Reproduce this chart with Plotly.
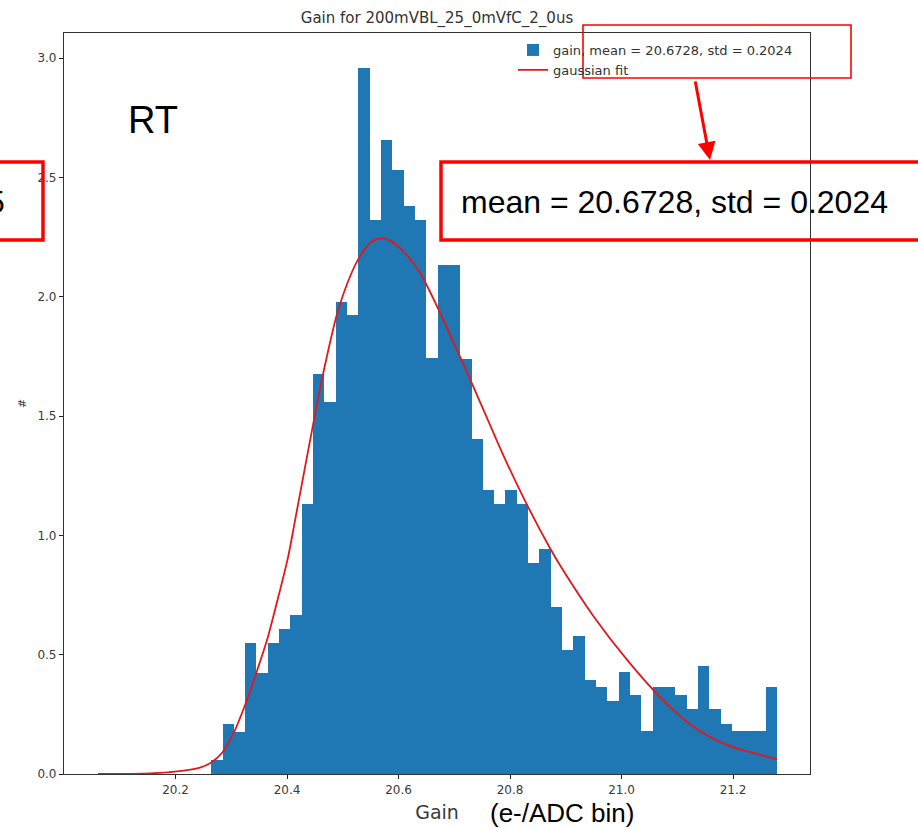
import plotly.graph_objects as go

# ---- data ----
bin_start = 20.264
bin_width = 0.0203
density = [0.059, 0.21, 0.178, 0.547, 0.425, 0.547, 0.607, 0.667, 1.13, 1.676,
           1.557, 1.979, 1.923, 2.957, 2.32, 2.655, 2.531, 2.381, 2.32, 1.742,
           2.133, 2.133, 1.739, 1.404, 1.19, 1.13, 1.19, 1.13, 0.884, 0.943,
           0.70, 0.52, 0.577, 0.394, 0.363, 0.307, 0.429, 0.332, 0.179, 0.363,
           0.363, 0.332, 0.274, 0.453, 0.274, 0.21, 0.179, 0.179, 0.179, 0.363]

fit_x = [20.061, 20.155, 20.199, 20.244, 20.264, 20.284, 20.304, 20.325, 20.343, 20.364,
         20.382, 20.402, 20.415, 20.448, 20.465, 20.490, 20.514, 20.531, 20.549, 20.568,
         20.585, 20.604, 20.627, 20.640, 20.669, 20.711, 20.732, 20.759, 20.788, 20.830,
         20.872, 20.893, 20.950, 21.010, 21.070, 21.129, 21.189, 21.249, 21.279]
fit_y = [0.0, 0.003, 0.01, 0.027, 0.048, 0.09, 0.17, 0.29, 0.41, 0.56,
         0.72, 0.91, 1.07, 1.48, 1.68, 1.93, 2.09, 2.17, 2.225, 2.245,
         2.235, 2.20, 2.14, 2.095, 1.96, 1.745, 1.635, 1.49, 1.335, 1.13,
         0.945, 0.862, 0.66, 0.478, 0.32, 0.198, 0.122, 0.080, 0.062]

x_ticks = [20.2, 20.4, 20.6, 20.8, 21.0, 21.2]
y_ticks = [0.0, 0.5, 1.0, 1.5, 2.0, 2.5, 3.0]

title_text = "Gain for 200mVBL_25_0mVfC_2_0us"
hist_label = "gain, mean = 20.6728, std = 0.2024"
fit_label = "gaussian fit"
callout_text = "mean = 20.6728, std = 0.2024"

# ---- figure ----
W, H = 918, 828
ML, MR, MT, MB = 64, 108, 33, 54
PW, PH = W - ML - MR, H - MT - MB


def px_x(p):
    return (p - ML) / PW


def px_y(p):
    return (H - MB - p) / PH


edges = [bin_start + i * bin_width for i in range(len(density))]

fig = go.Figure()
fig.add_trace(go.Bar(x=edges, y=density, width=bin_width, offset=0,
                     marker=dict(color="#1f77b4", line=dict(width=0)),
                     name=hist_label))
fig.add_trace(go.Scatter(x=fit_x, y=fit_y, mode="lines",
                         line=dict(color="#e0191c", width=1.8, shape="spline",
                                   smoothing=0.8),
                         name=fit_label))

tickfont = dict(family="DejaVu Sans", size=12, color="#3a3a3a")
fig.update_layout(
    width=W, height=H,
    margin=dict(l=ML, r=MR, t=MT, b=MB, autoexpand=False),
    paper_bgcolor="white", plot_bgcolor="white",
    bargap=0,
    title=dict(text=title_text, x=0.5, xanchor="center", xref="paper",
               y=1 - 18 / H, yanchor="middle",
               font=dict(family="DejaVu Sans", size=15, color="#333333")),
    showlegend=True,
    legend=dict(x=px_x(513), y=px_y(35), xanchor="left", yanchor="top",
                bgcolor="rgba(255,255,255,0)", borderwidth=0,
                font=dict(family="DejaVu Sans", size=13, color="#333333"),
                itemwidth=30, tracegroupgap=0),
    xaxis=dict(range=[20.0, 21.338], tickvals=x_ticks,
               ticktext=[f"{v:.1f}" for v in x_ticks],
               showgrid=False, zeroline=False,
               showline=True, linecolor="#333333", linewidth=1.2, mirror=True,
               ticks="outside", ticklen=4, tickwidth=1.2, tickcolor="#222222",
               tickfont=tickfont,
               title=dict(text="Gain", standoff=10,
                          font=dict(family="DejaVu Sans", size=19, color="#3a3a3a")),
               automargin=False),
    yaxis=dict(range=[0, 3.105], tickvals=y_ticks,
               ticktext=[f"{v:.1f}" for v in y_ticks],
               showgrid=False, zeroline=False,
               showline=True, linecolor="#333333", linewidth=1.2, mirror=True,
               ticks="outside", ticklen=4, tickwidth=1.2, tickcolor="#222222",
               tickfont=tickfont,
               title=dict(text="#", standoff=8,
                          font=dict(family="DejaVu Sans", size=11, color="#333333")),
               automargin=False),
)

red = "#ff0000"
# thin box around legend
fig.add_shape(type="rect", xref="paper", yref="paper",
              x0=px_x(583), x1=px_x(851), y0=px_y(78), y1=px_y(25),
              line=dict(color=red, width=1.6), fillcolor="rgba(0,0,0,0)", layer="above")
# callout box (right)
fig.add_shape(type="rect", xref="paper", yref="paper",
              x0=px_x(441), x1=px_x(935), y0=px_y(240), y1=px_y(162),
              line=dict(color=red, width=3.5), fillcolor="rgba(0,0,0,0)", layer="above")
# partial callout box (left)
fig.add_shape(type="rect", xref="paper", yref="paper",
              x0=px_x(-40), x1=px_x(43), y0=px_y(240), y1=px_y(162),
              line=dict(color=red, width=3.5), fillcolor="rgba(0,0,0,0)", layer="above")

# arrow
fig.add_annotation(x=px_x(710), y=px_y(160), xref="paper", yref="paper",
                   ax=-15, ay=-80, axref="pixel", ayref="pixel",
                   text="", showarrow=True, arrowhead=2, arrowsize=1.2,
                   arrowwidth=3, arrowcolor=red)

fig.add_annotation(x=px_x(459), y=px_y(202), xref="paper", yref="paper",
                   xanchor="left", yanchor="middle", showarrow=False,
                   text=callout_text,
                   font=dict(family="Liberation Sans", size=32, color="black"))
fig.add_annotation(x=px_x(7), y=px_y(202), xref="paper", yref="paper",
                   xanchor="right", yanchor="middle", showarrow=False,
                   text="5",
                   font=dict(family="Liberation Sans", size=32, color="black"))
fig.add_annotation(x=px_x(126), y=px_y(120), xref="paper", yref="paper",
                   xanchor="left", yanchor="middle", showarrow=False,
                   text="RT",
                   font=dict(family="Liberation Sans", size=38, color="black"))
fig.add_annotation(x=px_x(488), y=px_y(813), xref="paper", yref="paper",
                   xanchor="left", yanchor="middle", showarrow=False,
                   text="(e-/ADC bin)",
                   font=dict(family="Liberation Sans", size=26, color="black"))

fig.write_html("out.html")
